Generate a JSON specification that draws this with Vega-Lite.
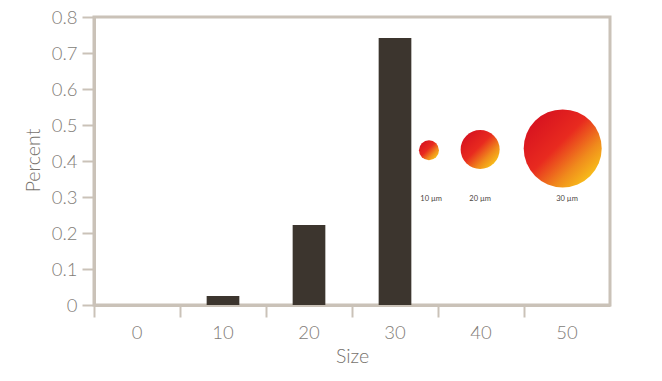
{
  "$schema": "https://vega.github.io/schema/vega-lite/v6.json",
  "width": 516,
  "height": 288,
  "autosize": {"type": "none"},
  "padding": {"left": 94, "top": 17, "right": 52, "bottom": 76},
  "background": "white",
  "config": {
    "view": {"stroke": "#cac2b8", "strokeWidth": 3},
    "font": "Lato",
    "axis": {
      "domainColor": "#cac2b8",
      "domainWidth": 3,
      "tickColor": "#cac2b8",
      "tickWidth": 2,
      "tickSize": 12,
      "labelFont": "Lato",
      "labelFontWeight": 300,
      "labelFontSize": 18.5,
      "labelColor": "#827d78",
      "titleFont": "Lato",
      "titleFontWeight": 300,
      "titleFontSize": 19.5,
      "titleColor": "#77726d",
      "grid": false
    }
  },
  "datasets": {
    "bars": [
      {"Size": 10, "Percent": 0.025},
      {"Size": 20, "Percent": 0.222},
      {"Size": 30, "Percent": 0.742}
    ],
    "particles": [
      {"um": 10, "cx": 33.95, "cy": 0.43, "lx": 34.2, "ly": 0.294, "label": "10 µm"},
      {"um": 20, "cx": 39.9, "cy": 0.432, "lx": 39.9, "ly": 0.294, "label": "20 µm"},
      {"um": 30, "cx": 49.5, "cy": 0.435, "lx": 50.0, "ly": 0.294, "label": "30 µm"}
    ]
  },
  "layer": [
    {
      "data": {"name": "bars"},
      "mark": {"type": "bar", "color": "#3c352e", "width": {"band": 0.38}},
      "encoding": {
        "x": {
          "field": "Size",
          "type": "ordinal",
          "scale": {"domain": [0, 10, 20, 30, 40, 50], "paddingInner": 0, "paddingOuter": 0},
          "axis": {"labelAngle": 0, "bandPosition": 0, "labelPadding": 6, "titleX": 258, "titleY": 51, "titleBaseline": "middle"}
        },
        "y": {
          "field": "Percent",
          "type": "quantitative",
          "title": "Percent",
          "scale": {"domain": [0, 0.8], "nice": false},
          "axis": {"values": [0, 0.1, 0.2, 0.3, 0.4, 0.5, 0.6, 0.7, 0.8], "format": "~g", "labelPadding": 5, "titleX": -61, "titleY": 143, "titleBaseline": "middle", "titleAlign": "center"}
        }
      }
    },
    {
      "data": {"name": "particles"},
      "mark": {
        "type": "point",
        "shape": "circle",
        "filled": true,
        "opacity": 1,
        "fill": {
          "gradient": "linear",
          "x1": 0.15, "y1": 0.15, "x2": 0.9, "y2": 0.9,
          "stops": [
            {"offset": 0, "color": "#d8141f"},
            {"offset": 0.4, "color": "#e82a1f"},
            {"offset": 0.72, "color": "#f08a1c"},
            {"offset": 1, "color": "#f9c81a"}
          ]
        }
      },
      "encoding": {
        "x": {"field": "cx", "type": "quantitative", "scale": {"domain": [-5, 55], "nice": false, "zero": false}, "axis": null},
        "y": {
          "field": "cy",
          "type": "quantitative",
          "title": "Percent",
          "axis": {"values": [0, 0.1, 0.2, 0.3, 0.4, 0.5, 0.6, 0.7, 0.8], "format": "~g", "labelPadding": 5, "titleX": -61, "titleY": 143, "titleBaseline": "middle", "titleAlign": "center"}
        },
        "size": {"field": "um", "type": "quantitative", "scale": {"domain": [10, 20, 30], "range": [400, 1521, 6084]}, "legend": null}
      }
    },
    {
      "data": {"name": "particles"},
      "mark": {"type": "text", "font": "Lato", "fontSize": 7.5, "color": "#4a4540", "baseline": "middle"},
      "encoding": {
        "x": {"field": "lx", "type": "quantitative", "scale": {"domain": [-5, 55], "nice": false, "zero": false}, "axis": null},
        "y": {
          "field": "ly",
          "type": "quantitative",
          "title": "Percent",
          "axis": {"values": [0, 0.1, 0.2, 0.3, 0.4, 0.5, 0.6, 0.7, 0.8], "format": "~g", "labelPadding": 5, "titleX": -61, "titleY": 143, "titleBaseline": "middle", "titleAlign": "center"}
        },
        "text": {"field": "label"}
      }
    }
  ],
  "resolve": {"scale": {"x": "independent"}}
}
